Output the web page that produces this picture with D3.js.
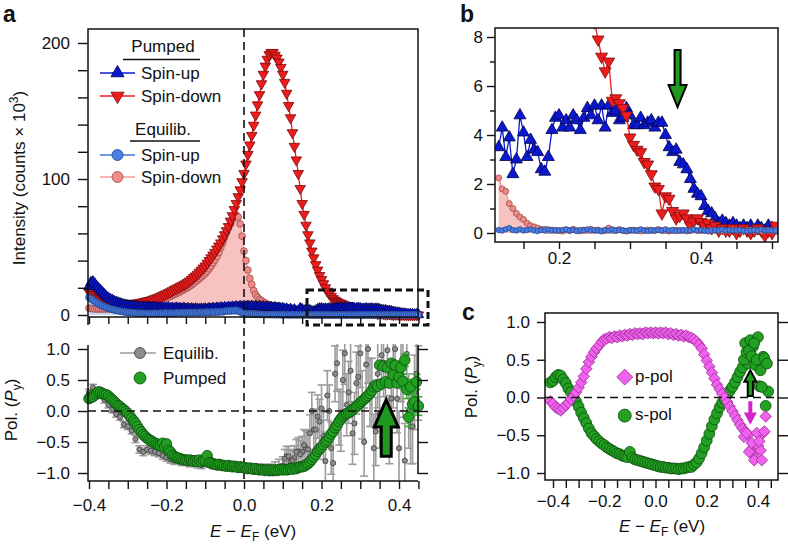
<!DOCTYPE html>
<html>
<head>
<meta charset="utf-8">
<script src="https://cdn.jsdelivr.net/npm/d3@7"></script>
<style>
  body { margin: 0; background: #fff; }
  svg { font-family: "Liberation Sans", Arial, sans-serif; }
</style>
</head>
<body>
<svg id="fig" width="788" height="545"></svg>
<script>
// --- Spectra (panels a and b), energy grid -0.40 ... 0.505 eV, 5 meV step ---
const specStart = -0.4, specStep = 0.005;

const pumpedDown = [
  17, 16, 15, 14, 13, 12.2, 11.5, 10.8, 10, 9.5,           // -0.40
  9, 8.7, 8.5, 8.2, 8, 8, 8, 7.9, 8, 8,                   // -0.35
  8, 8.1, 8.3, 8.4, 8.6, 8.8, 9, 9.3, 9.6, 10,            // -0.30
  10.3, 10.6, 11, 11.5, 12, 12.5, 13, 13.6, 14.3, 15,     // -0.25
  15.6, 16.3, 17, 17.8, 18.6, 19.3, 20, 20.8, 21.5, 22.2, // -0.20
  23, 24, 25, 26.2, 27.5, 28.7, 30, 31.5, 33, 34.5,       // -0.15
  36, 38, 40, 42, 44, 46, 48.5, 50.7, 53, 56,             // -0.10
  59, 62, 65, 69, 73, 77.5, 82, 87, 92, 98,               // -0.05
  104, 111, 118, 125, 132, 139.5, 147, 154.5, 162, 170,   // 0.00
  177, 183, 188, 191.5, 193, 193, 191, 189, 186, 182,     // 0.05
  177, 171, 163, 154, 145, 134, 124, 114, 104, 93,        // 0.10
  82, 74, 66, 59, 53, 47, 42, 37, 33, 29,                 // 0.15
  26, 23, 20, 17.5, 15.5, 13.6, 12, 10.8, 9.8, 9,         // 0.20
  8.6, 7.9, 7.2, 6.6, 7.0, 5.4, 5.5, 5.3, 5.1, 4.8,       // 0.25
  3.9, 3.6, 3.4, 3.3, 2.9, 2.8, 2.4, 1.9, 1.8, 0.8,       // 0.30
  1.5, 1.4, 0.9, 0.6, 0.7, 0.8, 0.6, 0.3, 0.5, 0.6,       // 0.35
  0.45, 0.3, 0.4, 0.2, 0.3, 0.1, 0.2, 0.1, 0.1, 0.2,      // 0.40
  0.0, 0.1, 0.2, 0.1, 0.0, 0.1, 0.2, 0.1, -0.1, 0.1,      // 0.45
  0.0, 0.3                                                // 0.50
];

const pumpedUp = [
  21, 24, 24.5, 23, 21, 19.5, 18, 16.5, 15, 13.5,         // -0.40
  12.5, 11.5, 11, 10, 9.5, 9, 8.5, 8, 7.5, 7.3,           // -0.35
  7, 6.8, 6.6, 6.5, 6.3, 6.4, 6, 6.2, 5.8, 6,             // -0.30
  5.5, 5.8, 5.4, 5.6, 5.2, 5.5, 5, 5.3, 4.9, 5.2,         // -0.25
  5, 5.4, 4.8, 5.1, 4.6, 5.2, 4.7, 4.9, 4.5, 5.0,         // -0.20
  4.4, 4.8, 4.3, 4.7, 4.2, 4.6, 4.4, 4.0, 4.5, 4.2,       // -0.15
  4.6, 4.1, 4.8, 4.4, 5.0, 4.5, 5.2, 4.7, 5.4, 4.9,       // -0.10
  5.6, 5.1, 5.8, 5.3, 6.0, 5.5, 6.2, 5.7, 6.3, 5.9,       // -0.05
  6.4, 6.0, 6.5, 6.1, 6.6, 6.0, 6.4, 5.9, 6.3, 5.8,       // 0.00
  6.1, 5.6, 5.9, 5.4, 5.7, 5.2, 5.5, 5.0, 5.2, 4.7,       // 0.05
  4.9, 4.2, 4.5, 3.5, 4.3, 3.1, 3.9, 2.4, 3.0, 4.8,       // 0.10
  4.1, 3.1, 3.8, 3.4, 3.3, 2.6, 2.5, 3.1, 4.2, 4.7,       // 0.15
  4.8, 4.3, 4.6, 4.3, 4.8, 4.6, 4.2, 4.7, 5.1, 4.8,       // 0.20
  5.2, 4.6, 5.2, 4.3, 5.2, 4.9, 5.0, 4.6, 4.7, 5.1,       // 0.25
  4.8, 4.4, 4.4, 4.7, 4.4, 4.5, 4.6, 4.3, 4.5, 4.5,       // 0.30
  4.0, 3.5, 3.3, 3.4, 2.9, 2.8, 2.6, 2.2, 1.8, 1.6,       // 0.35
  1.5, 1.1, 0.9, 0.8, 0.6, 0.4, 0.5, 0.4, 0.3, 0.4,       // 0.40
  0.3, 0.2, 0.3, 0.2, 0.3, 0.1, 0.3, 0.2, 0.1, 0.3,       // 0.45
  0.2, 0.1                                                // 0.50
];

const equilDown = [
  5, 4.8, 4.6, 4.5, 4.5, 4.4, 4.5, 4.4, 4.5, 4.5,         // -0.40
  4.5, 4.6, 4.6, 4.7, 4.8, 4.9, 5.0, 5.1, 5.2, 5.3,       // -0.35
  5.4, 5.5, 5.7, 5.9, 6.1, 6.3, 6.6, 6.9, 7.2, 7.6,       // -0.30
  8.0, 8.4, 8.8, 9.2, 9.6, 10.1, 10.6, 11.1, 11.6, 12.1,  // -0.25
  12.6, 13.2, 13.8, 14.4, 15.0, 15.7, 16.4, 17.1, 17.9, 18.7, // -0.20
  19.5, 20.3, 21.2, 22.2, 23.3, 24.4, 25.6, 26.8, 28, 29.3, // -0.15
  30.6, 32.2, 34, 36, 38.2, 40.5, 43, 46, 49.5, 53,       // -0.10
  57, 60.5, 64, 67, 70, 72.5, 73.5, 72, 67, 58,           // -0.05
  47, 40, 33, 27, 22.5, 18, 15, 13, 11.5, 10.5,           // 0.00
  9.5, 8.7, 8, 7.5, 7, 6.5, 6, 5.5, 5, 4.5,               // 0.05
  3.4, 3.0, 2.6, 2.25, 1.8, 1.7, 1.2, 1.0, 0.8, 0.65,     // 0.10
  0.55, 0.4, 0.3, 0.25, 0.2, 0.15, 0.15, 0.1, 0.12, 0.1,  // 0.15
  0.1, 0.08, 0.12, 0.1, 0.15, 0.1, 0.08, 0.12, 0.1, 0.15, // 0.20
  0.1, 0.12, 0.08, 0.1, 0.2, 0.1, 0.1, 0.14, 0.1, 0.08,   // 0.25
  0.1, 0.12, 0.1, 0.08, 0.1, 0.12, 0.1, 0.1, 0.14, 0.1,   // 0.30
  0.1, 0.08, 0.1, 0.12, 0.1, 0.1, 0.08, 0.1, 0.12, 0.1,   // 0.35
  0.1, 0.1, 0.08, 0.12, 0.1, 0.1, 0.1, 0.08, 0.1, 0.12,   // 0.40
  0.1, 0.1, 0.08, 0.1, 0.12, 0.1, 0.1, 0.08, 0.1, 0.1,    // 0.45
  0.1, 0.1                                                // 0.50
];

const equilUp = [
  13, 12, 11, 10, 9, 8.2, 7.5, 6.8, 6.2, 5.6,             // -0.40
  5.1, 4.6, 4.2, 3.8, 3.5, 3.2, 2.9, 2.6, 2.4, 2.2,       // -0.35
  2.0, 1.9, 1.7, 1.6, 1.5, 1.4, 1.3, 1.3, 1.2, 1.2,       // -0.30
  1.1, 1.2, 1.0, 1.1, 1.3, 1.0, 1.2, 1.4, 1.1, 1.3,       // -0.25
  1.5, 1.2, 1.4, 1.6, 1.3, 1.5, 1.7, 1.4, 1.6, 1.8,       // -0.20
  1.5, 1.7, 1.9, 1.6, 1.8, 2.0, 1.7, 1.9, 2.1, 1.8,       // -0.15
  2.0, 2.2, 1.9, 2.1, 2.3, 2.0, 2.4, 2.2, 2.5, 2.3,       // -0.10
  2.8, 3.0, 3.2, 3.0, 3.4, 3.2, 3.5, 3.0, 2.4, 1.8,       // -0.05
  1.3, 1.1, 0.9, 0.8, 0.7, 0.6, 0.55, 0.5, 0.45, 0.4,     // 0.00
  0.4, 0.35, 0.35, 0.3, 0.3, 0.3, 0.25, 0.25, 0.25, 0.2,  // 0.05
  0.2, 0.2, 0.15, 0.12, 0.1, 0.15, 0.2, 0.12, 0.1, 0.15,  // 0.10
  0.1, 0.12, 0.15, 0.1, 0.08, 0.12, 0.1, 0.15, 0.1, 0.12, // 0.15
  0.1, 0.12, 0.15, 0.1, 0.12, 0.08, 0.12, 0.1, 0.15, 0.1, // 0.20
  0.12, 0.1, 0.08, 0.12, 0.1, 0.15, 0.1, 0.12, 0.1, 0.08, // 0.25
  0.12, 0.1, 0.1, 0.15, 0.1, 0.08, 0.12, 0.1, 0.12, 0.1,  // 0.30
  0.15, 0.1, 0.12, 0.08, 0.1, 0.12, 0.1, 0.1, 0.15, 0.1,  // 0.35
  0.12, 0.1, 0.08, 0.1, 0.12, 0.1, 0.15, 0.1, 0.12, 0.1,  // 0.40
  0.1, 0.12, 0.1, 0.08, 0.1, 0.12, 0.1, 0.15, 0.1, 0.12,  // 0.45
  0.1, 0.1                                                // 0.50
];

// --- Spin polarization, panel a (bottom) ---
const polPumpedStart = -0.4, polPumpedStep = 0.005;
const polPumped = [
  0.20, 0.22, 0.23, 0.26, 0.29, 0.31, 0.30, 0.28, 0.27, 0.26,          // -0.40
  0.24, 0.21, 0.18, 0.15, 0.12, 0.09, 0.07, 0.04, 0.02, -0.01,         // -0.35
  -0.04, -0.08, -0.12, -0.16, -0.20, -0.25, -0.30, -0.34, -0.38, -0.41, // -0.30
  -0.44, -0.46, -0.48, -0.50, -0.52, -0.53, -0.55, -0.56, -0.52, -0.58, // -0.25
  -0.53, -0.63, -0.66, -0.71, -0.73, -0.75, -0.76, -0.77, -0.78, -0.79, // -0.20
  -0.79, -0.80, -0.79, -0.80, -0.81, -0.80, -0.81, -0.79, -0.82, -0.80, // -0.15
  -0.80, -0.72, -0.83, -0.84, -0.85, -0.86, -0.87, -0.86, -0.87, -0.88, // -0.10
  -0.88, -0.89, -0.88, -0.89, -0.90, -0.89, -0.90, -0.91, -0.90, -0.91, // -0.05
  -0.91, -0.92, -0.93, -0.92, -0.93, -0.94, -0.93, -0.94, -0.95, -0.94, // 0.00
  -0.95, -0.96, -0.95, -0.96, -0.95, -0.96, -0.95, -0.96, -0.95, -0.94, // 0.05
  -0.95, -0.94, -0.95, -0.94, -0.93, -0.94, -0.92, -0.93, -0.91, -0.90, // 0.10
  -0.90, -0.89, -0.87, -0.85, -0.82, -0.78, -0.74, -0.70, -0.65, -0.61, // 0.15
  -0.58, -0.54, -0.50, -0.47, -0.42, -0.37, -0.33, -0.27, -0.23, -0.17, // 0.20
  -0.13, -0.09, -0.06, -0.04, -0.03, -0.01, 0.02, 0.05, 0.07, 0.10,    // 0.25
  0.13, 0.16, 0.19, 0.22, 0.25, 0.28, 0.33, 0.39, 0.42, 0.40,          // 0.30
  0.74, 0.44, 0.72, 0.47, 0.70, 0.45, 0.77, 0.58, 0.74, 0.45,          // 0.35
  0.55, 0.70, 0.48, 0.82, 0.35, -0.10, 0.39, 0.11, 0.15, 0.47,         // 0.40
  0.08                                                                 // 0.45
];
// error bars of the last pumped points (0.40 ... 0.45 eV)
const polPumpedTailErr = [0.12, 0.1, 0.12, 0.1, 0.15, 0.15, 0.12, 0.15, 0.18, 0.12, 0.15];

const polEquilStart = -0.4, polEquilStep = 0.01;
const polEquil = [
  0.30, 0.38, 0.30, 0.25, 0.18, 0.10, 0.02, -0.05, -0.10, -0.22,       // -0.40
  -0.25, -0.32, -0.45, -0.62, -0.66, -0.62, -0.64, -0.66, -0.68, -0.72, // -0.30
  -0.75, -0.78, -0.80, -0.80, -0.82, -0.80, -0.84, -0.82, -0.86, -0.87, // -0.20
  -0.85, -0.80, -0.88, -0.88, -0.90, -0.89, -0.91, -0.90, -0.92, -0.93, // -0.10
  -0.92, -0.94, -0.90, -0.92, -0.95, -0.93, -0.94, -0.95, -0.92, -0.90, // 0.00
  -0.88, -0.73, -0.82, -0.76, -0.65, -0.66, -0.60, -0.36, -0.30, -0.09, // 0.10
  0.04, -0.81, 0.00, -0.84, 0.77, -0.17, 0.93, 0.30, -0.36, 0.45,      // 0.20
  0.93, -0.50, 1.00, 0.30, -0.33, -0.05, 0.78, 0.98, 0.20, 1.00,       // 0.30
  -0.60, 0.50, 0.92, -0.25, 0.30, 0.45                                 // 0.40
];
const polEquilErr = [
  0.05, 0.05, 0.05, 0.05, 0.05, 0.05, 0.05, 0.05, 0.05, 0.05,
  0.05, 0.05, 0.06, 0.06, 0.06, 0.06, 0.06, 0.06, 0.06, 0.06,
  0.06, 0.06, 0.06, 0.06, 0.06, 0.06, 0.06, 0.06, 0.06, 0.06,
  0.05, 0.05, 0.05, 0.05, 0.05, 0.05, 0.05, 0.05, 0.05, 0.05,
  0.05, 0.05, 0.05, 0.06, 0.06, 0.07, 0.08, 0.09, 0.10, 0.12,
  0.14, 0.16, 0.18, 0.20, 0.22, 0.25, 0.28, 0.30, 0.32, 0.35,
  0.38, 0.40, 0.42, 0.45, 0.45, 0.48, 0.50, 0.50, 0.50, 0.50,
  0.55, 0.55, 0.55, 0.55, 0.55, 0.55, 0.55, 0.55, 0.55, 0.55,
  0.60, 0.60, 0.60, 0.60, 0.60, 0.60
];
// interleaved equilibrium points, 0.105 ... 0.445 eV
const polEquilMidStart = 0.105;
const polEquilMid = [
  -0.77, -0.73, -0.80, -0.66, -0.70, -0.55, -0.62, 0.00, -0.30, -0.17,
  -0.40, 0.25, -0.60, 0.60, -0.10, 0.50, 0.10, 0.65, -0.20, 0.55,
  0.10, 0.75, 0.30, -0.60, 0.60, 0.90, 0.10, -0.30, 0.60, 0.20,
  0.75, -0.80, 0.00, -0.25, 0.60
];
const polEquilMidErr = [
  0.15, 0.16, 0.18, 0.20, 0.22, 0.25, 0.28, 0.30, 0.33, 0.36,
  0.38, 0.40, 0.42, 0.45, 0.45, 0.48, 0.50, 0.50, 0.50, 0.50,
  0.55, 0.55, 0.55, 0.55, 0.55, 0.55, 0.55, 0.55, 0.55, 0.55,
  0.60, 0.60, 0.60, 0.60, 0.60
];

// --- Panel c: polarization for p- and s-polarized pump ---
const cStart = -0.41, cStep = 0.01;
const pPol = [
  -0.05, -0.08, -0.13, -0.15, -0.17, -0.14, -0.10, -0.07, -0.02, 0.02, // -0.41
  0.07, 0.13, 0.20, 0.28, 0.38, 0.47, 0.54, 0.60, 0.65, 0.69,          // -0.31
  0.74, 0.77, 0.78, 0.80, 0.79, 0.81, 0.80, 0.82, 0.81, 0.83,          // -0.21
  0.82, 0.84, 0.83, 0.85, 0.84, 0.85, 0.84, 0.86, 0.85, 0.86,          // -0.11
  0.85, 0.86, 0.85, 0.86, 0.85, 0.86, 0.84, 0.85, 0.83, 0.84,          // -0.01
  0.82, 0.83, 0.81, 0.82, 0.80, 0.79, 0.77, 0.74, 0.70, 0.65,          // 0.09
  0.57, 0.49, 0.41, 0.33, 0.25, 0.17, 0.11, 0.05, 0.00, -0.06,         // 0.19
  -0.12, -0.18, -0.24, -0.30, -0.36, -0.41, -0.45, -0.50, -0.70, -0.75, // 0.29
  -0.81, -0.64, -0.70, -0.47, -0.25                                    // 0.39
];
const pPolTailE = [0.345, 0.355, 0.365, 0.375, 0.385, 0.395, 0.405, 0.415, 0.425];
const pPolTailV = [-0.52, -0.47, -0.72, -0.60, -0.83, -0.47, -0.58, -0.83, -0.45];

const sPol = [
  0.20, 0.22, 0.27, 0.30, 0.29, 0.24, 0.19, 0.12, 0.07, 0.01,          // -0.41
  -0.05, -0.12, -0.20, -0.27, -0.34, -0.41, -0.47, -0.51, -0.55, -0.58, // -0.31
  -0.61, -0.63, -0.66, -0.68, -0.70, -0.72, -0.74, -0.75, -0.77, -0.78, // -0.21
  -0.79, -0.72, -0.80, -0.82, -0.83, -0.84, -0.85, -0.86, -0.87, -0.88, // -0.11
  -0.89, -0.90, -0.91, -0.92, -0.92, -0.93, -0.93, -0.94, -0.94, -0.94, // -0.01
  -0.95, -0.94, -0.94, -0.93, -0.92, -0.92, -0.89, -0.86, -0.81, -0.74, // 0.09
  -0.66, -0.57, -0.48, -0.38, -0.29, -0.21, -0.13, -0.07, -0.02, 0.04, // 0.19
  0.09, 0.14, 0.20, 0.27, 0.34, 0.40, 0.72, 0.45, 0.76, 0.67,          // 0.29
  0.43, 0.80, 0.36, 0.54, -0.11, 0.08                                  // 0.39
];
const sPolTailE = [0.345, 0.355, 0.365, 0.375, 0.385, 0.395, 0.405, 0.415, 0.425, 0.435];
const sPolTailV = [0.50, 0.60, 0.62, 0.55, 0.72, 0.50, 0.15, 0.14, 0.52, 0.45];

// tick label lists
const aIntensityTicks = [0, 100, 200];
const aEnergyLabels = [-0.4, -0.2, 0, 0.2, 0.4];
const polTicks = [-1, -0.5, 0, 0.5, 1];
const bIntensityTicks = [0, 2, 4, 6, 8];
const bEnergyLabels = [0.2, 0.4];
const cEnergyLabels = [-0.4, -0.2, 0, 0.2, 0.4];

// ---------------------------------------------------------------
const svg = d3.select("#fig");
const ink = "#111";
const C = {
  red: "#ee1c1c", redEdge: "#7a0a0a",
  blue: "#0a18d0", blueEdge: "#00004a",
  eqBlue: "#4a7fe6", eqBlueEdge: "#23458f", eqBlueLine: "#3f74e0", eqBlueFill: "#c9d6f1",
  pink: "#f08b88", pinkEdge: "#9a4b4b", pinkLine: "#f29a98", pinkFill: "#f8c2c1",
  green: "#22a022", greenEdge: "#0c4d0c",
  gray: "#8c8c8c", grayEdge: "#3c3c3c", grayBar: "#9c9c9c",
  magenta: "#f062ee", magentaEdge: "#9a2a96"
};

const series = (vals, start, step) => vals.map((v, i) => ({ e: +(start + i * step).toFixed(4), v }));
const pairs = (es, vs) => es.map((e, i) => ({ e, v: vs[i] }));
const fmt1 = d3.format(".1f");
const range05 = (a, b) => d3.range(Math.round(a * 20), Math.round(b * 20) + 1).map(k => +(k / 20).toFixed(2));

function styleAxis(g) {
  g.attr("font-family", null).attr("font-size", 17);
  g.select(".domain").remove();
  g.selectAll(".tick line").attr("stroke", ink).attr("stroke-width", 1.4);
  g.selectAll(".tick text").attr("fill", ink);
}

function drawTriangles(g, data, x, y, size, down, fill, edge) {
  g.selectAll(null).data(data).join("path")
    .attr("d", d3.symbol(d3.symbolTriangle, size))
    .attr("transform", d => `translate(${x(d.e)},${y(d.v)})` + (down ? " rotate(180)" : ""))
    .attr("fill", fill).attr("stroke", edge).attr("stroke-width", 0.8);
}
function drawCircles(g, data, x, y, r, fill, edge, sw = 0.8) {
  g.selectAll(null).data(data).join("circle")
    .attr("cx", d => x(d.e)).attr("cy", d => y(d.v)).attr("r", r)
    .attr("fill", fill).attr("stroke", edge).attr("stroke-width", sw);
}
function drawDiamonds(g, data, x, y, h, fill, edge) {
  g.selectAll(null).data(data).join("path")
    .attr("d", `M0,${-h}L${h},0L0,${h}L${-h},0Z`)
    .attr("transform", d => `translate(${x(d.e)},${y(d.v)})`)
    .attr("fill", fill).attr("stroke", edge).attr("stroke-width", 0.8);
}
function drawLine(g, data, x, y, color, w = 1.3) {
  g.append("path").datum(data)
    .attr("d", d3.line().x(d => x(d.e)).y(d => y(d.v)))
    .attr("fill", "none").attr("stroke", color).attr("stroke-width", w);
}
function drawArea(g, data, x, y, color) {
  g.append("path").datum(data)
    .attr("d", d3.area().x(d => x(d.e)).y0(y(0)).y1(d => y(d.v)))
    .attr("fill", color).attr("stroke", "none");
}
function arrow(g, cx, yTail, yHead, yBase, shaftHalf, headHalf, fill, stroke, sw) {
  const p = [[cx - shaftHalf, yTail], [cx - shaftHalf, yBase], [cx - headHalf, yBase], [cx, yHead],
             [cx + headHalf, yBase], [cx + shaftHalf, yBase], [cx + shaftHalf, yTail]];
  g.append("path").attr("d", "M" + p.map(q => q.join(",")).join("L") + "Z")
    .attr("fill", fill).attr("stroke", stroke).attr("stroke-width", sw)
    .attr("stroke-linejoin", "miter");
}
function panelLabel(x, y, t) {
  svg.append("text").attr("x", x).attr("y", y).attr("font-size", 23)
    .attr("font-weight", "bold").attr("fill", ink).text(t);
}

const defs = svg.append("defs");
function clip(id, x, y, w, h) {
  defs.append("clipPath").attr("id", id).append("rect")
    .attr("x", x).attr("y", y).attr("width", w).attr("height", h);
  return `url(#${id})`;
}

// ================= Panel a (top): intensity =================
const xA = d3.scaleLinear([-0.4, 0.45], [89, 418.4]);
const yA = d3.scaleLinear([0, 200], [315, 43]);
const inA = d => d.e <= 0.4501;

const sDown = series(pumpedDown, specStart, specStep);
const sUp = series(pumpedUp, specStart, specStep);
const sEqDown = series(equilDown, specStart, specStep);
const sEqUp = series(equilUp, specStart, specStep);

const gA = svg.append("g");
drawArea(gA, sEqDown.filter(inA), xA, yA, C.pinkFill);
drawArea(gA, sEqUp.filter(inA), xA, yA, C.eqBlueFill);

// dashed vertical line at E_F (through both panels of a)
svg.append("line").attr("x1", xA(0)).attr("x2", xA(0)).attr("y1", 29).attr("y2", 481)
  .attr("stroke", ink).attr("stroke-width", 1.6).attr("stroke-dasharray", "8,5");

drawLine(gA, sEqDown.filter(inA), xA, yA, C.pinkLine);
drawCircles(gA, sEqDown.filter(inA), xA, yA, 3.4, C.pink, C.pinkEdge);
drawLine(gA, sDown.filter(inA), xA, yA, C.red);
drawTriangles(gA, sDown.filter(inA), xA, yA, 48, true, C.red, C.redEdge);
drawLine(gA, sUp.filter(inA), xA, yA, C.blue);
drawTriangles(gA, sUp.filter(inA), xA, yA, 48, false, C.blue, C.blueEdge);
drawLine(gA, sEqUp.filter(inA), xA, yA, C.eqBlueLine);
drawCircles(gA, sEqUp.filter(inA), xA, yA, 3.4, C.eqBlue, C.eqBlueEdge);

// frame and axes
svg.append("path").attr("d", "M88,325V29H418V317M88,317H418")
  .attr("fill", "none").attr("stroke", ink).attr("stroke-width", 1.5);
svg.append("g").attr("transform", "translate(88,0)")
  .call(d3.axisLeft(yA).tickValues(aIntensityTicks).tickSize(10).tickPadding(8).tickFormat(d3.format("d")))
  .call(styleAxis);
svg.append("g").attr("transform", "translate(88,0)")
  .call(d3.axisLeft(yA).tickValues(d3.range(20, 200, 20).filter(v => v !== 100)).tickSize(10).tickFormat(""))
  .call(styleAxis);
svg.append("g").attr("transform", "translate(0,317)")
  .call(d3.axisBottom(xA).tickValues(range05(-0.4, 0.45)).tickSize(7).tickFormat(""))
  .call(styleAxis);

// zoom box
svg.append("rect").attr("x", 307).attr("y", 290).attr("width", 121).attr("height", 35)
  .attr("fill", "none").attr("stroke", ink).attr("stroke-width", 3).attr("stroke-dasharray", "7,4");

// legend (top)
const legA = svg.append("g").attr("font-size", 17).attr("fill", ink);
function legHead(y, t, yLine, x1, x2) {
  legA.append("text").attr("x", 163).attr("y", y).attr("text-anchor", "middle").text(t);
  legA.append("line").attr("x1", x1).attr("x2", x2).attr("y1", yLine).attr("y2", yLine)
    .attr("stroke", ink).attr("stroke-width", 1.3);
}
legHead(52, "Pumped", 59.5, 123, 200);
legHead(135, "Equilib.", 141, 130, 200);
const legRows = [
  { y: 73, label: "Spin-up", kind: "tri", down: false, line: C.blue, fill: C.blue, edge: C.blueEdge },
  { y: 96, label: "Spin-down", kind: "tri", down: true, line: C.red, fill: C.red, edge: C.redEdge },
  { y: 155, label: "Spin-up", kind: "circ", line: C.eqBlueLine, fill: C.eqBlue, edge: C.eqBlueEdge },
  { y: 177, label: "Spin-down", kind: "circ", line: C.pinkLine, fill: C.pink, edge: C.pinkEdge }
];
legRows.forEach(r => {
  legA.append("line").attr("x1", 100).attr("x2", 135).attr("y1", r.y).attr("y2", r.y)
    .attr("stroke", r.line).attr("stroke-width", 1.6);
  if (r.kind === "tri") {
    legA.append("path").attr("d", d3.symbol(d3.symbolTriangle, 75))
      .attr("transform", `translate(117.5,${r.y})` + (r.down ? " rotate(180)" : ""))
      .attr("fill", r.fill).attr("stroke", r.edge).attr("stroke-width", 0.8);
  } else {
    legA.append("circle").attr("cx", 117.5).attr("cy", r.y).attr("r", 5.5)
      .attr("fill", r.fill).attr("stroke", r.edge).attr("stroke-width", 0.8);
  }
  legA.append("text").attr("x", 141).attr("y", r.y + 6).text(r.label);
});

// y label
const yLab = svg.append("text").attr("transform", "translate(25,178) rotate(-90)")
  .attr("text-anchor", "middle").attr("font-size", 17).attr("fill", ink);
yLab.append("tspan").text("Intensity (counts × 10");
yLab.append("tspan").attr("font-size", 12).attr("dy", -7).text("3");
yLab.append("tspan").attr("dy", 7).text(")");

// ================= Panel a (bottom): polarization =================
const yP = d3.scaleLinear([-1, 1], [473, 349]);
const gP = svg.append("g").attr("clip-path", clip("clipP", 80, 344, 345, 137));

svg.append("line").attr("x1", 88).attr("x2", 418).attr("y1", yP(0)).attr("y2", yP(0))
  .attr("stroke", ink).attr("stroke-width", 1.6).attr("stroke-dasharray", "8,5");

const sEq = series(polEquil, polEquilStart, polEquilStep).map((d, i) => ({ ...d, err: polEquilErr[i] }))
  .concat(series(polEquilMid, polEquilMidStart, polEquilStep).map((d, i) => ({ ...d, err: polEquilMidErr[i] })));
const sPm = series(polPumped, polPumpedStart, polPumpedStep);
const sPmTail = sPm.filter(d => d.e >= 0.3999).map((d, i) => ({ ...d, err: polPumpedTailErr[i] }));

function errorBars(g, data, x, y, color, cap) {
  const eg = g.append("g").attr("stroke", color).attr("stroke-width", 1.6);
  eg.selectAll(null).data(data).join("line")
    .attr("x1", d => x(d.e)).attr("x2", d => x(d.e))
    .attr("y1", d => y(d.v - d.err)).attr("y2", d => y(d.v + d.err));
  [-1, 1].forEach(s => {
    eg.selectAll(null).data(data).join("line")
      .attr("x1", d => x(d.e) - cap).attr("x2", d => x(d.e) + cap)
      .attr("y1", d => y(d.v + s * d.err)).attr("y2", d => y(d.v + s * d.err));
  });
}
errorBars(gP, sEq, xA, yP, C.grayBar, 4);
drawCircles(gP, sEq, xA, yP, 2.6, C.gray, C.grayEdge);
errorBars(gP, sPmTail, xA, yP, "#35b035", 4);
drawCircles(gP, sPm, xA, yP, 5.3, C.green, C.greenEdge);

// arrow (pumped)
arrow(svg, xA(0.367), yP(-0.73), yP(0.18), yP(-0.26), 5, 12, "#1f9a1f", "#000", 3);

svg.append("path").attr("d", "M88,345V481H418M418,345V474")
  .attr("fill", "none").attr("stroke", ink).attr("stroke-width", 1.5);
svg.append("g").attr("transform", "translate(88,0)")
  .call(d3.axisLeft(yP).tickValues(polTicks).tickSize(10).tickPadding(8).tickFormat(fmt1))
  .call(styleAxis);
svg.append("g").attr("transform", "translate(418,0)")
  .call(d3.axisRight(yP).tickValues(polTicks).tickSize(10).tickFormat(""))
  .call(styleAxis);
svg.append("g").attr("transform", "translate(0,481)")
  .call(d3.axisBottom(xA).tickValues(range05(-0.4, 0.45)).tickSize(8).tickPadding(10)
    .tickFormat(d => aEnergyLabels.some(v => Math.abs(v - d) < 1e-6) ? fmt1(d) : ""))
  .call(styleAxis);

// legend (bottom)
const legP = svg.append("g").attr("font-size", 17).attr("fill", ink);
legP.append("line").attr("x1", 120).attr("x2", 156).attr("y1", 353).attr("y2", 353)
  .attr("stroke", C.grayBar).attr("stroke-width", 1.6);
legP.append("circle").attr("cx", 140).attr("cy", 353).attr("r", 5.5)
  .attr("fill", C.gray).attr("stroke", C.grayEdge).attr("stroke-width", 0.8);
legP.append("text").attr("x", 163).attr("y", 359).text("Equilib.");
legP.append("circle").attr("cx", 140).attr("cy", 378).attr("r", 6)
  .attr("fill", C.green).attr("stroke", C.greenEdge).attr("stroke-width", 0.8);
legP.append("text").attr("x", 163).attr("y", 384).text("Pumped");

function polLabel(x, y) {
  const t = svg.append("text").attr("transform", `translate(${x},${y}) rotate(-90)`)
    .attr("text-anchor", "middle").attr("font-size", 17).attr("fill", ink);
  t.append("tspan").text("Pol. (");
  t.append("tspan").attr("font-style", "italic").text("P");
  t.append("tspan").attr("font-size", 12).attr("dy", 4).text("y");
  t.append("tspan").attr("dy", -4).text(")");
}
function energyLabel(x, y) {
  const t = svg.append("text").attr("x", x).attr("y", y)
    .attr("text-anchor", "middle").attr("font-size", 17).attr("fill", ink);
  t.append("tspan").attr("font-style", "italic").text("E");
  t.append("tspan").text(" − ");
  t.append("tspan").attr("font-style", "italic").text("E");
  t.append("tspan").attr("font-size", 12).attr("dy", 4).text("F");
  t.append("tspan").attr("dy", -4).text(" (eV)");
}
polLabel(17, 410);
energyLabel(253, 537);

// ================= Panel b: zoom of the high-energy tail =================
const xB = d3.scaleLinear([0.2, 0.4], [559, 701]);
const yB = d3.scaleLinear([0, 8], [233, 37]);
const inB = d => d.e >= 0.1149;
const gB = svg.append("g").attr("clip-path", clip("clipB", 495, 28, 283, 214));

drawArea(gB, sEqDown.filter(inB), xB, yB, C.pinkFill);
drawLine(gB, sUp.filter(inB), xB, yB, C.blue);
drawTriangles(gB, sUp.filter(inB), xB, yB, 62, false, C.blue, C.blueEdge);
drawLine(gB, sDown.filter(d => d.e >= 0.2499), xB, yB, C.red);
drawTriangles(gB, sDown.filter(d => d.e >= 0.2499), xB, yB, 62, true, C.red, C.redEdge);
drawLine(gB, sEqDown.filter(inB), xB, yB, C.pinkLine);
drawCircles(gB, sEqDown.filter(inB), xB, yB, 3, C.pink, C.pinkEdge);
drawLine(gB, sEqUp.filter(inB), xB, yB, C.eqBlueLine);
drawCircles(gB, sEqUp.filter(inB), xB, yB, 2.7, C.eqBlue, C.eqBlueEdge);

arrow(svg, xB(0.367), yB(7.47), yB(5.14), yB(6.04), 3, 9, "#1f9a1f", "#000", 2);

svg.append("rect").attr("x", 495).attr("y", 28).attr("width", 283).attr("height", 214)
  .attr("fill", "none").attr("stroke", ink).attr("stroke-width", 1.5);
svg.append("g").attr("transform", "translate(495,0)")
  .call(d3.axisLeft(yB).tickValues(bIntensityTicks).tickSize(8).tickPadding(4).tickFormat(d3.format("d")))
  .call(styleAxis);
svg.append("g").attr("transform", "translate(495,0)")
  .call(d3.axisLeft(yB).tickValues([1, 3, 5, 7]).tickSize(5).tickFormat(""))
  .call(styleAxis);
svg.append("g").attr("transform", "translate(0,242)")
  .call(d3.axisBottom(xB).tickValues(range05(0.15, 0.5)).tickSize(7).tickPadding(3)
    .tickFormat(d => bEnergyLabels.some(v => Math.abs(v - d) < 1e-6) ? fmt1(d) : ""))
  .call(styleAxis);

// ================= Panel c: p-pol vs s-pol =================
const xC = d3.scaleLinear([-0.4, 0.4], [553, 758]);
const yC = d3.scaleLinear([-1, 1], [473, 322]);
const gC = svg.append("g");

svg.append("line").attr("x1", 545).attr("x2", 778).attr("y1", yC(0)).attr("y2", yC(0))
  .attr("stroke", ink).attr("stroke-width", 1.6).attr("stroke-dasharray", "8,5");

const sP = series(pPol, cStart, cStep).concat(pairs(pPolTailE, pPolTailV));
const sS = series(sPol, cStart, cStep).concat(pairs(sPolTailE, sPolTailV));
drawCircles(gC, sS, xC, yC, 5.4, C.green, C.greenEdge);
drawDiamonds(gC, sP, xC, yC, 5.8, C.magenta, C.magentaEdge);

arrow(svg, xC(0.37), yC(0.02), yC(0.36), yC(0.21), 2.6, 6, "#1f9a1f", "#000", 2);
arrow(svg, xC(0.37), yC(-0.05), yC(-0.36), yC(-0.2), 2, 6.5, "#d426c8", "none", 0);

// legend c
drawDiamonds(svg.append("g"), [{ e: -0.12, v: 0.27 }], xC, yC, 8, C.magenta, C.magentaEdge);
drawCircles(svg.append("g"), [{ e: -0.12, v: -0.24 }], xC, yC, 6.5, C.green, C.greenEdge);
svg.append("text").attr("x", 635).attr("y", 382).attr("font-size", 17).attr("fill", ink).text("p-pol");
svg.append("text").attr("x", 635).attr("y", 420).attr("font-size", 17).attr("fill", ink).text("s-pol");

svg.append("rect").attr("x", 545).attr("y", 313).attr("width", 233).attr("height", 167)
  .attr("fill", "none").attr("stroke", ink).attr("stroke-width", 1.5);
svg.append("g").attr("transform", "translate(545,0)")
  .call(d3.axisLeft(yC).tickValues(polTicks).tickSize(8).tickPadding(7).tickFormat(fmt1))
  .call(styleAxis);
svg.append("g").attr("transform", "translate(778,0)")
  .call(d3.axisRight(yC).tickValues(polTicks).tickSize(10).tickFormat(""))
  .call(styleAxis);
svg.append("g").attr("transform", "translate(0,480)")
  .call(d3.axisBottom(xC).tickValues(range05(-0.4, 0.45)).tickSize(8).tickPadding(7)
    .tickFormat(d => cEnergyLabels.some(v => Math.abs(v - d) < 1e-6) ? fmt1(d) : ""))
  .call(styleAxis);

polLabel(477, 387);
energyLabel(662, 532);

panelLabel(3, 22, "a");
panelLabel(460, 22, "b");
panelLabel(462, 320, "c");
</script>
</body>
</html>
